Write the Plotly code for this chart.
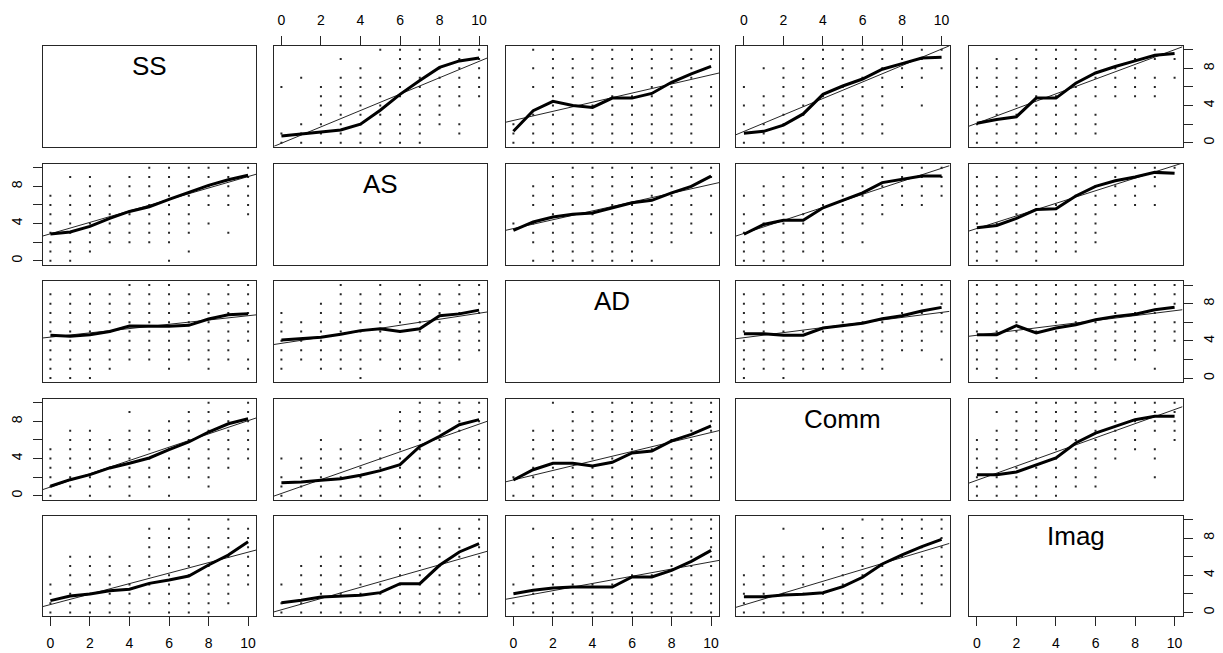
import plotly.graph_objects as go

# ---------------- data ----------------
variables = ["SS", "AS", "AD", "Comm", "Imag"]
levels = list(range(11))                      # integer scores 0..10
tick_values = [0, 2, 4, 6, 8, 10]
x_tick_labels = ["0", "2", "4", "6", "8", "10"]
y_tick_labels = ["0", "", "4", "", "8", ""]

# occupied score combinations for the upper panels (row var = y, col var = x)
# each string is one y level from 10 (first) down to 0 (last); char index = x level
occ_SS_AS = ["-----oooooo", "---o--ooooo", "----o-ooooo", "-o-oooooooo", "o-ooooooooo",
             "--ooooooooo", "--oooo-ooo-", "--ooooooo--", "-ooooooooo-", "oooooooo-o-",
             "oooooooo---"]
occ_SS_AD = ["-oo-ooooooo", "--ooooooooo", "-ooooooooo-", "--oooooooo-", "-oooooooooo",
             "--ooooooooo", "--ooooooooo", "-ooooooooo-", "oooooooooo-", "oooooooooo-",
             "oooooooooo-"]
occ_SS_Comm = ["----ooooooo", "---ooooooo-", "-oooooooooo", "--oooooooo-", "o-ooooooo--",
               "-ooooooo---", "oooooooo-o-", "-oooooo----", "oooooooo---", "-ooooooo---",
               "oooooo-----"]
occ_SS_Imag = ["---ooooooo-", "-oooooooooo", "ooooooooo--", "ooooooooooo", "oooooooooo-",
               "-ooooooooo-", "oooooo-----", "ooooooo----", "ooooooo----", "ooooooo----",
               "oooo-------"]
occ_AS_AD = ["---oooooooo", "--ooooooooo", "-ooooooooo-", "-oooooooooo", "-ooooooooo-",
             "--ooooooooo", "oooooooooo-", "-oooooooooo", "-oooooooo--", "--ooooo----",
             "-ooooooo---"]
occ_AS_Comm = ["---oooooooo", "--ooooooooo", "-oooooooooo", "ooooooooooo", "-ooooooooo-",
               "oooooooo---", "ooooooo----", "oooooo-----", "ooooooo----", "ooooo------",
               "ooo-o------"]
occ_AS_Imag = ["--ooooooooo", "oooooooooo-", "oooooooooo-", "ooooooooo--", "oooooooooo-",
               "ooooooo----", "ooooooo----", "ooooooo----", "ooooooo----", "oooooo-----",
               "oo-o-------"]
occ_AD_Comm = ["--ooooooooo", "ooooooooooo", "ooooooooooo", "ooooooooooo", "ooooooooooo",
               "ooooooooooo", "oooooooooo-", "oooooooooo-", "oooooooo--o", "oooooooo---",
               "o-o--------"]
occ_AD_Imag = ["ooooooooooo", "ooooooooooo", "ooooooooooo", "oooooooooo-", "ooooooooooo",
               "ooooooooooo", "ooooooooooo", "oooooooooo-", "ooooooooo--", "ooooooo--o-",
               "-o-o-------"]
occ_Comm_Imag = ["---oooooooo", "-oooooooooo", "--ooooooooo", "-oooooooooo", "ooooooooo-o",
                 "oooooooooo-", "oooooooo-o-", "ooooooo----", "ooooooo--o-", "ooooooo----",
                 "ooooo------"]

# mean of row variable at each level 0..10 of column variable (thick line)
mean_SS_AS = [0.73, 0.91, 1.16, 1.37, 2.0, 3.5, 5.2, 6.7, 8.1, 8.8, 9.1]
mean_SS_AD = [1.23, 3.45, 4.45, 4.0, 3.8, 4.8, 4.8, 5.3, 6.5, 7.4, 8.2]
mean_SS_Comm = [1.02, 1.23, 1.9, 3.1, 5.2, 6.1, 6.85, 7.9, 8.5, 9.1, 9.2]
mean_SS_Imag = [2.1, 2.5, 2.8, 4.8, 4.8, 6.4, 7.5, 8.2, 8.8, 9.4, 9.6]
mean_AS_SS = [2.88, 3.1, 3.7, 4.55, 5.3, 5.8, 6.6, 7.35, 8.1, 8.7, 9.2]
mean_AS_AD = [3.27, 4.17, 4.7, 5.0, 5.13, 5.7, 6.24, 6.5, 7.3, 8.0, 9.1]
mean_AS_Comm = [2.85, 3.9, 4.35, 4.35, 5.7, 6.5, 7.3, 8.4, 8.75, 9.1, 9.1]
mean_AS_Imag = [3.55, 3.8, 4.55, 5.5, 5.6, 6.96, 8.0, 8.6, 9.0, 9.5, 9.4]
mean_AD_SS = [4.6, 4.5, 4.66, 5.0, 5.6, 5.56, 5.56, 5.67, 6.35, 6.8, 6.9]
mean_AD_AS = [4.09, 4.23, 4.38, 4.7, 5.1, 5.3, 5.0, 5.3, 6.7, 6.9, 7.3]
mean_AD_Comm = [4.77, 4.77, 4.6, 4.6, 5.38, 5.67, 5.9, 6.38, 6.7, 7.2, 7.6]
mean_AD_Imag = [4.66, 4.66, 5.63, 4.85, 5.38, 5.74, 6.27, 6.63, 6.87, 7.34, 7.6]
mean_Comm_SS = [1.02, 1.73, 2.27, 2.99, 3.5, 4.06, 4.95, 5.78, 6.85, 7.74, 8.28]
mean_Comm_AS = [1.41, 1.48, 1.66, 1.84, 2.2, 2.7, 3.34, 5.3, 6.4, 7.64, 8.18]
mean_Comm_AD = [1.7, 2.8, 3.5, 3.5, 3.2, 3.6, 4.6, 4.8, 5.9, 6.6, 7.5]
mean_Comm_Imag = [2.27, 2.27, 2.56, 3.34, 4.06, 5.67, 6.74, 7.46, 8.18, 8.54, 8.54]
mean_Imag_SS = [1.27, 1.77, 1.99, 2.34, 2.49, 3.13, 3.49, 3.92, 5.1, 6.18, 7.6]
mean_Imag_AS = [1.05, 1.31, 1.66, 1.77, 1.85, 2.13, 3.1, 3.1, 5.07, 6.5, 7.39]
mean_Imag_AD = [2.02, 2.38, 2.63, 2.74, 2.74, 2.74, 3.81, 3.81, 4.53, 5.5, 6.68]
mean_Imag_Comm = [1.7, 1.7, 1.88, 1.95, 2.13, 2.77, 3.78, 5.21, 6.18, 7.07, 7.86]

# linear fit (intercept, slope) of row variable on column variable (thin line)
reg_SS_AS = [-0.05, 0.88]
reg_SS_AD = [2.4, 0.49]
reg_SS_Comm = [1.22, 0.885]
reg_SS_Imag = [2.1, 0.79]
reg_AS_SS = [2.9, 0.615]
reg_AS_AD = [3.46, 0.475]
reg_AS_Comm = [2.94, 0.70]
reg_AS_Imag = [3.47, 0.676]
reg_AD_SS = [4.4, 0.23]
reg_AD_AS = [3.73, 0.324]
reg_AD_Comm = [4.34, 0.272]
reg_AD_Imag = [4.6, 0.264]
reg_Comm_SS = [0.94, 0.713]
reg_Comm_AS = [0.25, 0.745]
reg_Comm_AD = [1.7, 0.51]
reg_Comm_Imag = [1.67, 0.76]
reg_Imag_SS = [0.85, 0.563]
reg_Imag_AS = [0.29, 0.604]
reg_Imag_AD = [1.57, 0.387]
reg_Imag_Comm = [0.81, 0.636]

# ---------------- tables built from the data ----------------
occupancy = {
    ("SS", "AS"): occ_SS_AS, ("SS", "AD"): occ_SS_AD, ("SS", "Comm"): occ_SS_Comm,
    ("SS", "Imag"): occ_SS_Imag, ("AS", "AD"): occ_AS_AD, ("AS", "Comm"): occ_AS_Comm,
    ("AS", "Imag"): occ_AS_Imag, ("AD", "Comm"): occ_AD_Comm, ("AD", "Imag"): occ_AD_Imag,
    ("Comm", "Imag"): occ_Comm_Imag,
}
means = {
    ("SS", "AS"): mean_SS_AS, ("SS", "AD"): mean_SS_AD, ("SS", "Comm"): mean_SS_Comm,
    ("SS", "Imag"): mean_SS_Imag, ("AS", "SS"): mean_AS_SS, ("AS", "AD"): mean_AS_AD,
    ("AS", "Comm"): mean_AS_Comm, ("AS", "Imag"): mean_AS_Imag, ("AD", "SS"): mean_AD_SS,
    ("AD", "AS"): mean_AD_AS, ("AD", "Comm"): mean_AD_Comm, ("AD", "Imag"): mean_AD_Imag,
    ("Comm", "SS"): mean_Comm_SS, ("Comm", "AS"): mean_Comm_AS, ("Comm", "AD"): mean_Comm_AD,
    ("Comm", "Imag"): mean_Comm_Imag, ("Imag", "SS"): mean_Imag_SS, ("Imag", "AS"): mean_Imag_AS,
    ("Imag", "AD"): mean_Imag_AD, ("Imag", "Comm"): mean_Imag_Comm,
}
regs = {
    ("SS", "AS"): reg_SS_AS, ("SS", "AD"): reg_SS_AD, ("SS", "Comm"): reg_SS_Comm,
    ("SS", "Imag"): reg_SS_Imag, ("AS", "SS"): reg_AS_SS, ("AS", "AD"): reg_AS_AD,
    ("AS", "Comm"): reg_AS_Comm, ("AS", "Imag"): reg_AS_Imag, ("AD", "SS"): reg_AD_SS,
    ("AD", "AS"): reg_AD_AS, ("AD", "Comm"): reg_AD_Comm, ("AD", "Imag"): reg_AD_Imag,
    ("Comm", "SS"): reg_Comm_SS, ("Comm", "AS"): reg_Comm_AS, ("Comm", "AD"): reg_Comm_AD,
    ("Comm", "Imag"): reg_Comm_Imag, ("Imag", "SS"): reg_Imag_SS, ("Imag", "AS"): reg_Imag_AS,
    ("Imag", "AD"): reg_Imag_AD, ("Imag", "Comm"): reg_Imag_Comm,
}

def panel_points(row_var, col_var):
    """x = col_var level, y = row_var level of every occupied combination."""
    xs, ys = [], []
    if (row_var, col_var) in occupancy:
        g = occupancy[(row_var, col_var)]
        for i, line in enumerate(g):
            for j, ch in enumerate(line):
                if ch == "o":
                    xs.append(levels[j]); ys.append(levels[len(g) - 1 - i])
    else:
        g = occupancy[(col_var, row_var)]
        for i, line in enumerate(g):
            for j, ch in enumerate(line):
                if ch == "o":
                    xs.append(levels[len(g) - 1 - i]); ys.append(levels[j])
    return xs, ys

# ---------------- layout geometry (pixels) ----------------
W, H = 1223, 653
col_left = [42.5, 273.5, 505.5, 736.0, 969.0]
panel_w = 213.5
row_top = [46.0, 164.0, 281.3, 399.0, 515.7]
panel_h = 100.5

lo, hi = min(levels), max(levels)
pad = 0.04 * (hi - lo)
axis_range = [lo - pad, hi + pad]

INK = "#262626"
tick_font = dict(family="Liberation Sans, Arial, sans-serif", size=14, color="#000000")

fig = go.Figure()
layout_axes = {}
annotations = []
n = len(variables)
for r in range(n):
    for c in range(n):
        k = r * n + c + 1
        xname = "x" if k == 1 else f"x{k}"
        yname = "y" if k == 1 else f"y{k}"
        xkey = "xaxis" if k == 1 else f"xaxis{k}"
        ykey = "yaxis" if k == 1 else f"yaxis{k}"
        rv, cv = variables[r], variables[c]

        if r == c:
            fig.add_trace(go.Scatter(x=[None], y=[None], xaxis=xname, yaxis=yname,
                                     mode="markers", showlegend=False, hoverinfo="skip"))
            annotations.append(dict(
                text=rv, xref="paper", yref="paper",
                x=(col_left[c] + panel_w / 2) / W,
                y=1 - (row_top[r] + 20) / H,
                xanchor="center", yanchor="middle", showarrow=False,
                font=dict(family="Liberation Sans, Arial, sans-serif", size=26, color="#000000")))
        else:
            px, py = panel_points(rv, cv)
            fig.add_trace(go.Scatter(x=px, y=py, xaxis=xname, yaxis=yname, mode="markers",
                                     marker=dict(symbol="square", size=2, color=INK,
                                                 line=dict(width=0)),
                                     showlegend=False, hoverinfo="skip"))
            a, b = regs[(rv, cv)]
            fig.add_trace(go.Scatter(x=axis_range, y=[a + b * axis_range[0], a + b * axis_range[1]],
                                     xaxis=xname, yaxis=yname, mode="lines",
                                     line=dict(color=INK, width=1),
                                     showlegend=False, hoverinfo="skip"))
            fig.add_trace(go.Scatter(x=levels, y=means[(rv, cv)], xaxis=xname, yaxis=yname,
                                     mode="lines", line=dict(color="#000000", width=3),
                                     showlegend=False, hoverinfo="skip"))

        xax = dict(domain=[col_left[c] / W, (col_left[c] + panel_w) / W], anchor=yname,
                   range=axis_range, showgrid=False, zeroline=False, showline=True,
                   mirror=True, linecolor=INK, linewidth=1, fixedrange=True)
        if (r == 0 and c % 2 == 1) or (r == n - 1 and c % 2 == 0):
            xax.update(side="top" if r == 0 else "bottom", ticks="outside", ticklen=9,
                       tickwidth=1, tickcolor=INK, tickvals=tick_values,
                       ticktext=x_tick_labels, showticklabels=True, tickfont=tick_font,
                       ticklabelstandoff=5)
        else:
            xax.update(ticks="", showticklabels=False)

        yax = dict(domain=[1 - (row_top[r] + panel_h) / H, 1 - row_top[r] / H], anchor=xname,
                   range=axis_range, showgrid=False, zeroline=False, showline=True,
                   mirror=True, linecolor=INK, linewidth=1, fixedrange=True)
        if (c == 0 and r % 2 == 1) or (c == n - 1 and r % 2 == 0):
            yax.update(side="left" if c == 0 else "right", ticks="outside", ticklen=9,
                       tickwidth=1, tickcolor=INK, tickvals=tick_values,
                       ticktext=y_tick_labels, showticklabels=True, tickfont=tick_font,
                       tickangle=-90, ticklabelstandoff=5)
        else:
            yax.update(ticks="", showticklabels=False)

        layout_axes[xkey] = xax
        layout_axes[ykey] = yax

fig.update_layout(width=W, height=H, margin=dict(l=0, r=0, t=0, b=0),
                  paper_bgcolor="white", plot_bgcolor="white",
                  annotations=annotations, showlegend=False, **layout_axes)

fig.write_html("out.html", config={"displayModeBar": False})
